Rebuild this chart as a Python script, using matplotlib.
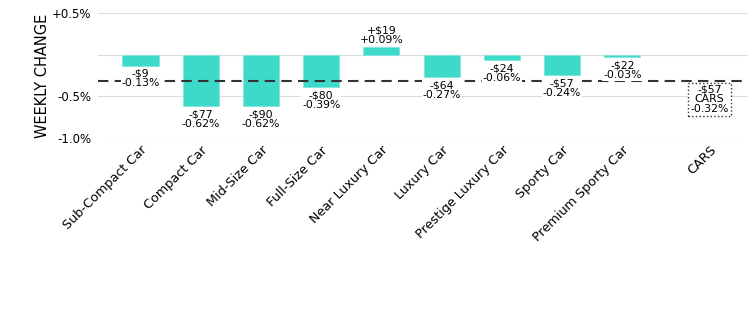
#!/usr/bin/env python3

import matplotlib
matplotlib.use('Agg')
import matplotlib.pyplot as plt

# segment data
segments = ['Sub-Compact Car', 'Compact Car', 'Mid-Size Car', 'Full-Size Car',
            'Near Luxury Car', 'Luxury Car', 'Prestige Luxury Car', 'Sporty Car',
            'Premium Sporty Car']
pct = [-0.13, -0.62, -0.62, -0.39, 0.09, -0.27, -0.06, -0.24, -0.03]
dollars = [-9, -77, -90, -80, 19, -64, -24, -57, -22]

total_name = 'CARS'
total_pct = -0.32
total_dollars = -57

yticks = [0.5, -0.5, -1.0]
ytick_labels = ['+0.5%', '-0.5%', '-1.0%']


def fmt_d(v):
  return ('+$%d' % v) if v > 0 else ('-$%d' % abs(v))


def fmt_p(v):
  return ('+%.2f%%' % v) if v > 0 else ('%.2f%%' % v)


fig = plt.figure(figsize=(7.56, 3.16), dpi=100)
ax = fig.add_axes([0.13, 0.563, 0.859, 0.396])

xs = list(range(len(segments)))
x_total = 9.45

ax.bar(xs, pct, width=0.6, color='#3dd9c9', edgecolor='#7fe8dc', linewidth=0.6, zorder=2)

for x, p, d in zip(xs, pct, dollars):
  txt = fmt_d(d) + '\n' + fmt_p(p)
  if p >= 0:
    ax.text(x, p + 0.03, txt, ha='center', va='bottom', fontsize=7.8,
            linespacing=0.95, zorder=4,
            bbox=dict(facecolor='white', edgecolor='none', pad=0.5))
  else:
    ax.text(x, p - 0.04, txt, ha='center', va='top', fontsize=7.8,
            linespacing=0.95, zorder=4,
            bbox=dict(facecolor='white', edgecolor='none', pad=0.5))

# overall average line
ax.axhline(total_pct, color='#333333', linewidth=1.5, linestyle=(0, (5, 3)), zorder=3)
ax.text(x_total, total_pct - 0.04,
        fmt_d(total_dollars) + '\n' + total_name + '\n' + fmt_p(total_pct),
        ha='center', va='top', fontsize=7.8, linespacing=0.95, zorder=4,
        bbox=dict(facecolor='white', edgecolor='#333333', linestyle=':',
                  linewidth=1.0, boxstyle='square,pad=0.2'))

ax.set_xlim(-0.7, 10.08)
ax.set_ylim(-1.0, 0.5)
ax.set_xticks(xs + [x_total])
ax.set_xticklabels(segments + [total_name], rotation=45, ha='right',
                   rotation_mode='anchor', fontsize=9.2)
ax.set_yticks([0.5, 0.0, -0.5, -1.0])
ax.set_yticklabels([ytick_labels[0], '', ytick_labels[1], ytick_labels[2]],
                   fontsize=8.5)
ax.grid(axis='y', color='#dddddd', linewidth=0.8, zorder=0)
ax.tick_params(axis='x', length=0, pad=4)
ax.tick_params(axis='y', length=0, pad=5)
for s in ax.spines.values():
  s.set_visible(False)

ax.set_ylabel('WEEKLY CHANGE', fontsize=10.5, labelpad=1)

fig.savefig('out.png', dpi=100)
